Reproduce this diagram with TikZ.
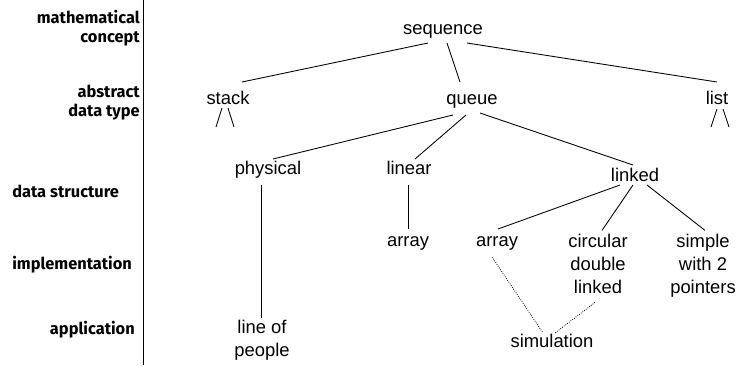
\documentclass[tikz,border=0pt]{standalone}
\usepackage{fontspec}
\setmainfont{Liberation Sans}
\newfontfamily\lblfont{Fira Sans}
\usetikzlibrary{calc}
\begin{document}
\begin{tikzpicture}[x=0.75pt,y=-0.75pt,
  termbase/.style={inner sep=0pt,align=center,font=\fontsize{13.8}{17.25}\selectfont},
  term/.style={termbase,text height=10.3pt,text depth=3pt},
  multiterm/.style={termbase,anchor=north},
  level/.style={inner sep=0pt,font=\lblfont\bfseries\fontsize{12.3}{14.25}\selectfont},
  edge/.style={line width=0.65pt},
  dotedge/.style={line width=0.6pt,densely dotted}]
\useasboundingbox (0,0) rectangle (746,365);

% level captions on the left
\node[level,anchor=east,align=right] (lmath) at (140,28) {mathematical\\concept};
\node[level,anchor=east,align=right] (ladt) at (140,103) {abstract\\data type};
\node[level,anchor=west] (lds) at (12,191) {data structure};
\node[level,anchor=west] (limpl) at (12,265) {implementation};
\node[level,anchor=east] (lapp) at (135,330) {application};
\coordinate (rtop) at (143,0);
\coordinate (rbot) at (143,365);
\draw[edge] (rtop) -- (rbot);

% terms
\node[term] (seq) at (443,30) {sequence};
\node[term] (stack) at (228,100) {stack};
\node[term] (queue) at (472,100) {queue};
\node[term] (list) at (717,100) {list};
\node[term] (phys) at (268,170) {physical};
\node[term] (linear) at (409,170) {linear};
\node[term] (linked) at (635,177) {linked};
\node[term] (arrA) at (408,242) {array};
\node[term] (arrB) at (497,242) {array};
\node[multiterm] (circ) at (598,233.4) {circular\\double\\linked};
\node[multiterm] (simple) at (703,233.4) {simple\\with 2\\pointers};
\node[multiterm] (people) at (262,319.4) {line of\\people};
\node[term] (sim) at (552,343) {simulation};

% tree edges
\draw[edge] ($(seq)+(-15,13)$) -- ($(stack)+(14,-18)$);
\draw[edge] ($(seq)+(4,13)$) -- ($(queue)+(-12,-18)$);
\draw[edge] ($(seq)+(24,13)$) -- ($(list)+(0,-18)$);

\draw[edge] ($(stack)+(-6,8)$) -- ($(stack)+(-12,27)$);
\draw[edge] ($(stack)+(0,8)$) -- ($(stack)+(6,27)$);
\draw[edge] ($(list)+(0,9)$) -- ($(list)+(-6,27)$);
\draw[edge] ($(list)+(6,9)$) -- ($(list)+(12,27)$);

\draw[edge] ($(queue)+(-19,15)$) -- ($(phys)+(5,-11)$);
\draw[edge] ($(queue)+(-6,15)$) -- ($(linear)+(6,-11)$);
\draw[edge] ($(queue)+(8,13)$) -- ($(linked)+(-2,-12)$);

\draw[edge] ($(phys)+(-7,15)$) -- ($(people.north)+(-1,-1)$);
\draw[edge] ($(linear)+(-1,15)$) -- ($(arrA)+(0,-13)$);

\draw[edge] ($(linked)+(-15,8)$) -- ($(arrB)+(1,-13)$);
\draw[edge] ($(linked)+(-2,8)$) -- ($(circ.north)+(4,-3)$);
\draw[edge] ($(linked)+(12,8)$) -- ($(simple.north)+(2,-3)$);

% application links
\draw[dotedge] ($(arrB)+(-5,15)$) -- ($(sim)+(-9,-10)$);
\draw[dotedge] ($(circ.south)+(-3,9)$) -- ($(sim)+(3,-10)$);
\end{tikzpicture}
\end{document}
